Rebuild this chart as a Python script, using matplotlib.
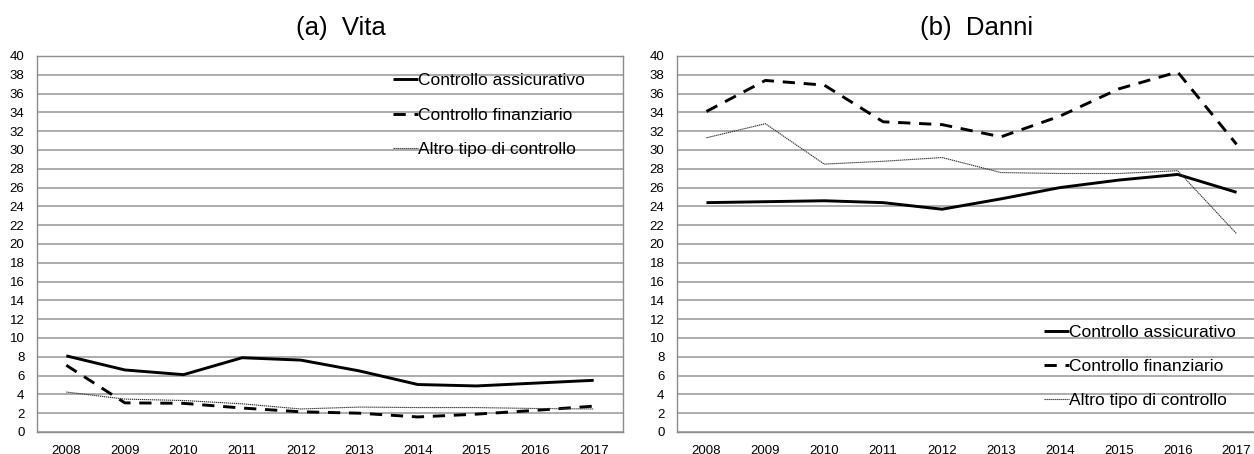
import matplotlib
matplotlib.use("Agg")
import matplotlib.pyplot as plt
import numpy as np

plt.rcParams['font.family'] = ['Liberation Sans', 'DejaVu Sans']

years = ["2008", "2009", "2010", "2011", "2012", "2013", "2014", "2015", "2016", "2017"]
series_names = ["Controllo assicurativo", "Controllo finanziario", "Altro tipo di controllo"]

vita_assicurativo = [8.1, 6.6, 6.1, 7.9, 7.65, 6.5, 5.05, 4.9, 5.2, 5.5]
vita_finanziario = [7.1, 3.1, 3.05, 2.55, 2.15, 2.0, 1.6, 1.9, 2.3, 2.75]
vita_altro = [4.25, 3.5, 3.35, 3.0, 2.45, 2.65, 2.6, 2.6, 2.5, 2.45]

danni_assicurativo = [24.4, 24.5, 24.6, 24.4, 23.7, 24.8, 26.0, 26.8, 27.4, 25.5]
danni_finanziario = [34.1, 37.4, 36.9, 33.0, 32.7, 31.4, 33.6, 36.5, 38.3, 30.6]
danni_altro = [31.3, 32.8, 28.5, 28.8, 29.2, 27.6, 27.5, 27.5, 27.8, 21.1]

titles = ["(a)  Vita", "(b)  Danni"]

W, H = 1254, 454
fig = plt.figure(figsize=(W / 100, H / 100), dpi=100)

def px_axes(left, top, right, bottom):
    return fig.add_axes([left / W, 1 - bottom / H, (right - left) / W, (bottom - top) / H])

ax1 = px_axes(37, 56, 623, 432)
ax2 = px_axes(677, 56, 1266, 432)

styles = [
    dict(color="black", lw=2.1, ls="-"),
    dict(color="black", lw=2.1, ls=(0, (4.2, 3.0))),
    dict(color="#333333", lw=0.8, ls=(0, (1.2, 0.6))),
]

x = np.arange(len(years))
grid_color = "#a6a6a6"

def setup(ax, data, legend_anchor):
    for vals, name, st in zip(data, series_names, styles):
        ax.plot(x, vals, label=name, solid_capstyle="butt", dash_capstyle="butt", **st)
    ax.set_xlim(-0.5, len(years) - 0.5)
    ax.set_ylim(0, 40)
    ax.set_yticks(np.arange(0, 41, 2))
    ax.set_xticks(x)
    ax.set_xticklabels(years)
    ax.tick_params(axis="both", length=0, labelsize=9.5, colors="black")
    ax.tick_params(axis="y", pad=9)
    ax.tick_params(axis="x", pad=9)
    ax.yaxis.grid(True, color=grid_color, lw=1.3)
    ax.set_axisbelow(True)
    for s in ax.spines.values():
        s.set_color("#8c8c8c")
        s.set_linewidth(1.0)
    leg = ax.legend(loc="upper left", bbox_to_anchor=legend_anchor, frameon=False,
                    fontsize=12.5, handlelength=1.45, handletextpad=0.0,
                    labelspacing=1.1, borderpad=0, borderaxespad=0)
    return leg

setup(ax1, [vita_assicurativo, vita_finanziario, vita_altro], (0.6075, 0.954))
setup(ax2, [danni_assicurativo, danni_finanziario, danni_altro], (0.623, 0.286))

fig.text(341 / W, 1 - 28 / H, titles[0], ha="center", va="center", fontsize=18.5)
fig.text(977 / W, 1 - 28 / H, titles[1], ha="center", va="center", fontsize=18.5)

fig.savefig("out.png", dpi=100)
